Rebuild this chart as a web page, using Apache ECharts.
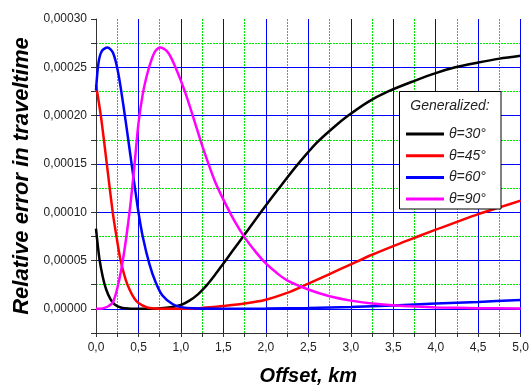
<!DOCTYPE html>
<html>
<head>
<meta charset="utf-8">
<script src="https://cdn.jsdelivr.net/npm/echarts@6/dist/echarts.min.js"></script>
<style>
    html, body { margin: 0; padding: 0; background: #fff; }
    #errorChart { width: 532px; height: 391px; }
</style>
</head>
<body>
<div id="errorChart"></div>
<script>
// values in units of 1e-5 (0.00001)
var seriesNames = ['θ=30°', 'θ=45°', 'θ=60°', 'θ=90°'];
var seriesColors = ['#000000', '#ff0000', '#0000ff', '#ff00ff'];

var x30 = [0, 0.04, 0.08, 0.12, 0.17, 0.22, 0.3, 0.4, 0.5, 0.6, 0.7, 0.8, 0.9, 1.0, 1.1, 1.2, 1.3, 1.4, 1.5, 1.6, 1.75, 1.9, 2.05, 2.2, 2.38, 2.6, 2.8, 2.97, 3.2, 3.44, 3.75, 4.0, 4.23, 4.5, 4.75, 5.0];
var y30 = [8.3, 5.2, 3.3, 2.0, 1.0, 0.45, 0.12, 0.02, 0, 0, 0.02, 0.08, 0.2, 0.4, 0.85, 1.5, 2.4, 3.5, 4.7, 5.9, 7.7, 9.5, 11.3, 13.0, 15.0, 17.2, 18.8, 20.0, 21.4, 22.5, 23.6, 24.4, 25.0, 25.5, 25.9, 26.2];

var x45 = [0, 0.06, 0.13, 0.2, 0.25, 0.29, 0.35, 0.4, 0.45, 0.5, 0.6, 0.7, 0.85, 1.0, 1.25, 1.5, 1.75, 2.0, 2.25, 2.5, 2.75, 3.0, 3.25, 3.5, 3.75, 4.0, 4.25, 4.5, 4.75, 5.0];
var y45 = [23.2, 19.8, 14.8, 9.8, 7.0, 5.0, 3.0, 1.9, 1.1, 0.6, 0.15, 0.04, 0.01, 0.02, 0.1, 0.3, 0.55, 0.95, 1.65, 2.6, 3.6, 4.6, 5.6, 6.5, 7.35, 8.2, 9.0, 9.8, 10.5, 11.2];

var x60 = [0, 0.03, 0.07, 0.135, 0.2, 0.26, 0.32, 0.38, 0.43, 0.5, 0.55, 0.63, 0.7, 0.78, 0.9, 1.0, 1.15, 1.5, 2.0, 2.5, 3.0, 3.5, 4.0, 4.5, 5.0];
var y60 = [22.6, 25.5, 26.7, 27.05, 26.5, 24.5, 21.2, 17.5, 14.3, 10.0, 7.5, 4.6, 2.8, 1.4, 0.5, 0.18, 0.05, 0.02, 0.03, 0.08, 0.2, 0.35, 0.55, 0.72, 0.92];

var x90 = [0, 0.05, 0.1, 0.15, 0.2, 0.25, 0.3, 0.35, 0.4, 0.45, 0.5, 0.55, 0.6, 0.65, 0.7, 0.76, 0.85, 0.95, 1.05, 1.15, 1.25, 1.4, 1.5, 1.63, 1.75, 1.88, 2.0, 2.13, 2.25, 2.5, 2.75, 3.0, 3.25, 3.5, 3.75, 4.0, 4.5, 5.0];
var y90 = [0, 0.02, 0.1, 0.3, 0.7, 2.1, 4.2, 7.0, 10.4, 14.6, 19.2, 22.2, 24.2, 25.7, 26.7, 27.05, 26.5, 24.7, 22.4, 19.7, 16.9, 13.2, 11.3, 9.1, 7.4, 5.9, 4.7, 3.7, 2.95, 2.0, 1.3, 0.85, 0.55, 0.37, 0.24, 0.15, 0.07, 0.04];

var xTicks = [0, 0.5, 1.0, 1.5, 2.0, 2.5, 3.0, 3.5, 4.0, 4.5, 5.0];
var yTicks = [0, 5, 10, 15, 20, 25, 30];

function pairs(xs, ys) {
    var out = [];
    for (var i = 0; i < xs.length; i++) {
        out.push([xs[i], ys[i]]);
    }
    return out;
}

var myChart = echarts.init(document.getElementById('errorChart'));

var allX = [x30, x45, x60, x90];
var allY = [y30, y45, y60, y90];
var series = [];
for (var k = 0; k < 4; k++) {
    series.push({
        name: seriesNames[k],
        type: 'line',
        data: pairs(allX[k], allY[k]),
        symbol: 'none',
        smooth: 0.3,
        lineStyle: { color: seriesColors[k], width: 2.5 },
        itemStyle: { color: seriesColors[k] },
        z: 3 + k
    });
}

var gridBlue = '#0000ff';
var gridGreen = '#00e800';
var greenDash = [2, 1];
var none = 'rgba(0,0,0,0)';

// grid sized so half steps are 21.5px (x) and 24.5px (y): dotted green lines land on .5 px
option = {
    backgroundColor: '#fff',
    animation: false,
    textStyle: { fontFamily: 'Liberation Sans, Arial, sans-serif' },
    grid: { left: 96, right: 6, top: 19, bottom: 53.5 },
    xAxis: [{
        type: 'value',
        min: xTicks[0],
        max: xTicks[xTicks.length - 1],
        interval: 0.25,
        name: 'Offset, km',
        nameLocation: 'middle',
        nameGap: 33,
        nameTextStyle: { fontSize: 20, fontWeight: 'bold', fontStyle: 'italic', color: '#000' },
        axisLine: { onZero: false, lineStyle: { color: '#333', width: 1 } },
        axisTick: { length: 4, lineStyle: { color: '#333' } },
        axisLabel: {
            fontSize: 12, color: '#222', margin: 9,
            formatter: function (v) {
                if (Math.round(v * 100) % 50 !== 0) return '';
                return v.toFixed(1).replace('.', ',');
            }
        },
        splitLine: {
            show: true, showMinLine: true, showMaxLine: true,
            lineStyle: { color: [gridBlue, none], width: 1 }
        },
        z: 2
    }, {
        // same scale, only the dotted green half steps
        type: 'value',
        min: 0,
        max: 5,
        interval: 0.25,
        position: 'bottom',
        axisLine: { show: false, onZero: false },
        axisTick: { show: false },
        axisLabel: { show: false },
        splitLine: {
            show: true, showMinLine: true, showMaxLine: true,
            lineStyle: { color: [none, gridGreen], width: 1, type: greenDash }
        },
        z: 1
    }],
    yAxis: [{
        type: 'value',
        min: -2.5,
        max: yTicks[yTicks.length - 1],
        interval: 2.5,
        name: 'Relative error in traveltime',
        nameLocation: 'middle',
        nameGap: 62,
        nameTextStyle: { fontSize: 22, fontWeight: 'bold', fontStyle: 'italic', color: '#000' },
        axisLine: { show: true, lineStyle: { color: '#333', width: 1 } },
        axisTick: { show: true, length: 5, lineStyle: { color: '#333' } },
        axisLabel: {
            fontSize: 12, color: '#222', margin: 9,
            formatter: function (v) {
                if (v < 0 || Math.round(v * 10) % 50 !== 0) return '';
                return (v / 1e5).toFixed(5).replace('.', ',');
            }
        },
        splitLine: {
            show: true, showMinLine: true, showMaxLine: false,
            lineStyle: { color: [none, gridBlue], width: 1 }
        },
        z: 2
    }, {
        // ticks counted from min -2.5 every 5 -> the half steps
        type: 'value',
        position: 'left',
        min: -2.5,
        max: 30,
        interval: 5,
        axisLine: { show: false },
        axisTick: { show: false },
        axisLabel: { show: false },
        splitLine: {
            show: true, showMinLine: false, showMaxLine: false,
            lineStyle: { color: gridGreen, width: 1, type: greenDash }
        },
        z: 1
    }],
    legend: {
        data: seriesNames,
        orient: 'vertical',
        left: 406,
        top: 127,
        padding: 0,
        icon: 'rect',
        itemWidth: 38,
        itemHeight: 3,
        itemGap: 7.7,
        z: 20,
        textStyle: { fontSize: 14, fontStyle: 'italic', color: '#222', lineHeight: 14 }
    },
    graphic: [{
        type: 'rect',
        shape: { x: 399.5, y: 91.5, width: 101.5, height: 117.5 },
        style: { fill: '#fff', stroke: '#000', lineWidth: 1 },
        z: 10
    }, {
        type: 'text',
        x: 450,
        y: 106,
        style: {
            text: 'Generalized:', fill: '#222',
            font: 'italic 14px "Liberation Sans", Arial, sans-serif',
            textAlign: 'center', textVerticalAlign: 'middle'
        },
        z: 11
    }],
    series: series
};

myChart.setOption(option);
</script>
</body>
</html>
